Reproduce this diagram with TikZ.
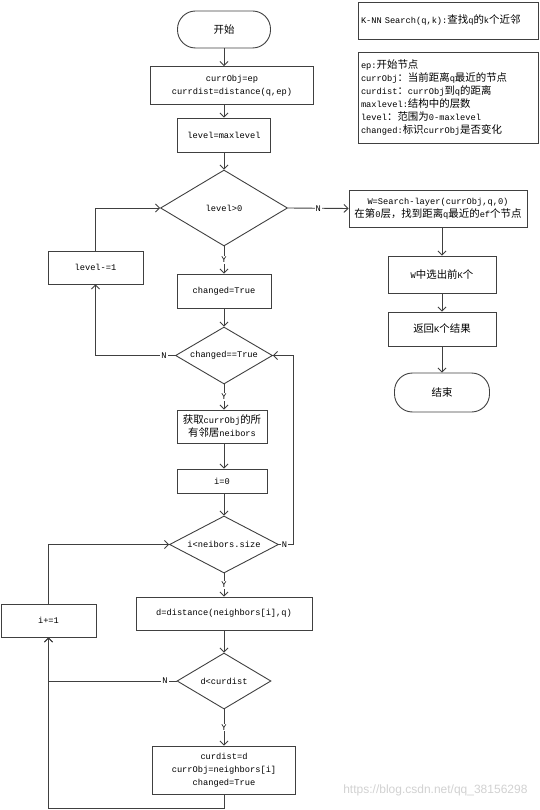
\documentclass[tikz,border=0pt]{standalone}
\usepackage{fontspec}
\setmainfont{Liberation Mono}
\newfontfamily\cjk[Scale=1.2]{Noto Sans CJK SC}
\newfontfamily\wmfont{Liberation Sans}
\usetikzlibrary{shapes.geometric,arrows.meta}
\begin{document}
\begin{tikzpicture}[x=1pt,y=-1pt, font=\fontsize{8.7}{13}\selectfont,
  line/.style={draw=black!75, line width=0.9pt},
  arr/.style={line, -{Straight Barb[length=4pt,width=8pt]}},
  box/.style={draw=black!75, line width=0.9pt, rectangle, align=center, inner sep=1pt},
  term/.style={box, rounded corners=18pt},
  dec/.style={draw=black!75, line width=0.9pt, diamond, aspect=2, inner sep=0pt},
  lab/.style={fill=white, inner sep=1pt},
  note/.style={box, align=left, text width=174pt, inner sep=3pt}]
\useasboundingbox (0,0) rectangle (539,810);

% main column
\node[term, minimum width=93pt, minimum height=37pt] (start) at (224,29.5) {{\cjk 开始}};
\node[box, minimum width=163pt, minimum height=38pt] (b1) at (232,85.5) {currObj=ep\\currdist=distance(q,ep)};
\node[box, minimum width=93pt, minimum height=34pt] (b2) at (224,135) {level=maxlevel};
\node[dec, minimum width=127pt, minimum height=76pt] (d1) at (224,208) {level>0};
\node[box, minimum width=94pt, minimum height=34pt] (ct) at (224,291) {changed=True};
\node[box, minimum width=95pt, minimum height=33pt] (lv) at (95.5,267.5) {level-=1};
\node[dec, minimum width=97pt, minimum height=57pt] (d2) at (224,355.5) {changed==True};
\node[box, minimum width=90pt, minimum height=33pt] (nb) at (222,426.5) {{\cjk 获取}currObj{\cjk 的所}\\{\cjk 有邻居}neibors};
\node[box, minimum width=90pt, minimum height=24pt] (i0) at (222,481) {i=0};
\node[dec, minimum width=109pt, minimum height=57pt] (d3) at (224,544.5) {i<neibors.size};
\node[box, minimum width=176pt, minimum height=33pt] (dd) at (224,613.5) {d=distance(neighbors[i],q)};
\node[box, minimum width=95pt, minimum height=33pt] (ip) at (48.5,620.5) {i+=1};
\node[dec, minimum width=94pt, minimum height=56pt] (d4) at (224,681) {d<curdist};
\node[box, minimum width=143pt, minimum height=48pt] (last) at (224,770) {curdist=d\\currObj=neighbors[i]\\changed=True};

% right column
\node[box, minimum width=178pt, minimum height=37pt] (w1) at (438,208.5) {W=Search-layer(currObj,q,0)\\{\cjk 在第}0{\cjk 层，找到距离}q{\cjk 最近的}ef{\cjk 个节点}};
\node[box, minimum width=108pt, minimum height=37pt] (w2) at (442,274.5) {W{\cjk 中选出前}K{\cjk 个}};
\node[box, minimum width=108pt, minimum height=34pt] (w3) at (442,329) {{\cjk 返回}K{\cjk 个结果}};
\node[term, minimum width=95pt, minimum height=39pt] (end) at (442,392.5) {{\cjk 结束}};

% notes
\node[note, minimum height=37pt] (knn) at (448,20.5) {K-NN Search(q,k):{\cjk 查找}q{\cjk 的}k{\cjk 个近邻}};
\node[note, minimum height=91pt] (legend) at (448,97.5) {ep:{\cjk 开始节点}\\
currObj{\cjk ：当前距离}q{\cjk 最近的节点}\\
curdist{\cjk ：}currObj{\cjk 到}q{\cjk 的距离}\\
maxlevel:{\cjk 结构中的层数}\\
level{\cjk ：}{\cjk 范围为}0-maxlevel\\
changed:{\cjk 标识}currObj{\cjk 是否变化}};

% helper coordinates
\coordinate (r) at (293,544.5);
\coordinate (bl) at (224,808);

% connectors
\draw[arr] (start.south) -- (start.south |- b1.north);
\draw[arr] (b2.north |- b1.south) -- (b2.north);
\draw[arr] (b2.south) -- (d1.north);
\draw[arr] (d1.east) -- node[lab]{N} (w1.west);
\draw[arr] (d1.south) -- node[lab]{Y} (ct.north);
\draw[arr] (ct.south) -- (d2.north);
\draw[arr] (d2.west) -| node[lab, pos=0.07]{N} (lv.south);
\draw[arr] (lv.north) |- (d1.west);
\draw[arr] (d2.south) -- node[lab]{Y} (d2.south |- nb.north);
\draw[arr] (d3.north |- nb.south) -- (d3.north |- i0.north);
\draw[arr] (d3.north |- i0.south) -- (d3.north);
\draw[arr] (d3.east) -- node[lab, pos=0.4]{N} (r) |- (d2.east);
\draw[arr] (d3.south) -- node[lab]{Y} (dd.north);
\draw[arr] (dd.south) -- (d4.north);
\draw[arr] (d4.west) -| node[lab, pos=0.045]{N} (ip.south);
\draw[arr] (d4.south) -- node[lab]{Y} (last.north);
\draw[arr] (last.south) -- (bl) -| (ip.south);
\draw[arr] (ip.north) |- (d3.west);
\draw[arr] (w2.north |- w1.south) -- (w2.north);
\draw[arr] (w2.south) -- (w3.north);
\draw[arr] (w3.south) -- (end.north);

% watermark
\node[text=black!18, font=\wmfont\fontsize{12}{14}\selectfont, anchor=east] (wm) at (531,790) {https://blog.csdn.net/qq\_38156298};
\end{tikzpicture}
\end{document}
